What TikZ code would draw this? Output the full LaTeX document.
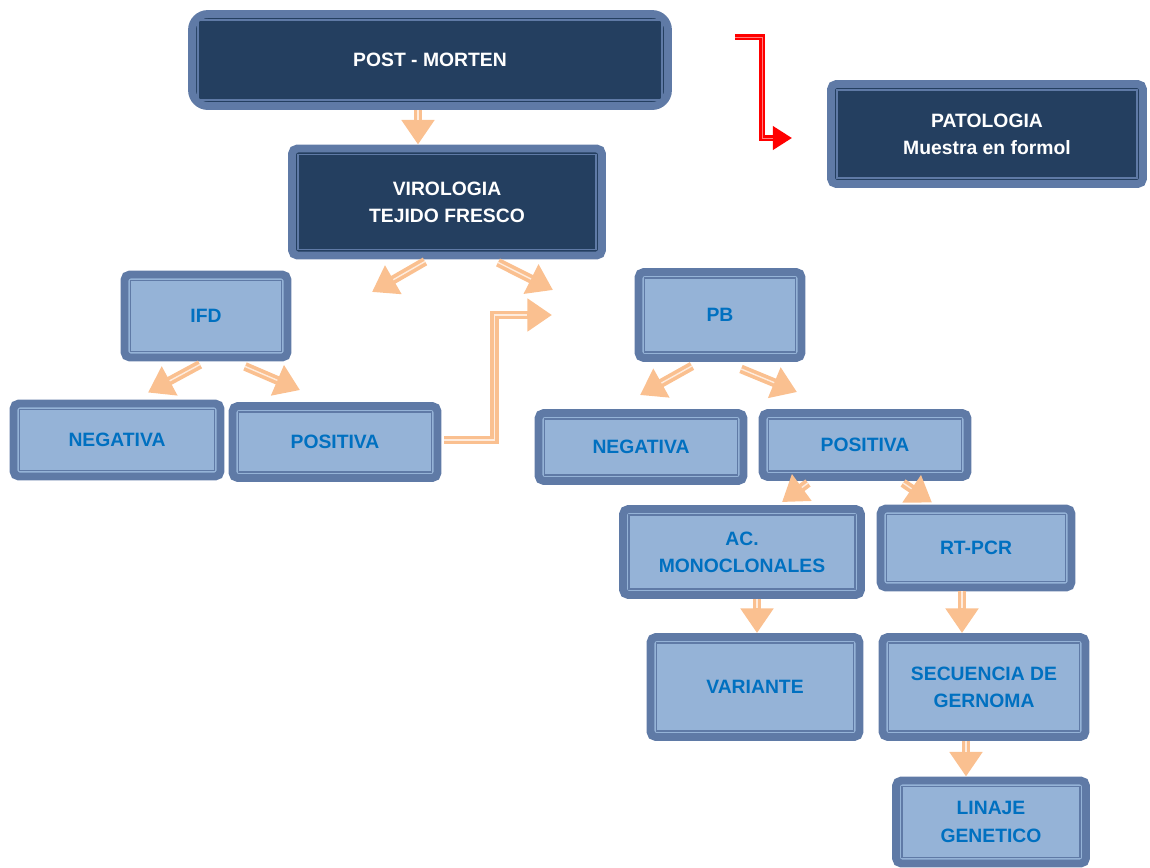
\documentclass[tikz,border=0pt]{standalone}
\usepackage{fontspec}
\setsansfont{Liberation Sans}
\usetikzlibrary{arrows.meta}
\definecolor{darkfill}{HTML}{243F60}
\definecolor{frame}{HTML}{5F7AA6}
\definecolor{lightfill}{HTML}{95B3D7}
\definecolor{bluetext}{HTML}{0070C0}
\definecolor{flowcol}{HTML}{FAC090}
\tikzset{
  box/.style={draw=frame, line width=4.5pt, rounded corners=3pt, align=center,
    font=\sffamily\bfseries\fontsize{11}{15.5}\selectfont},
  darkbox/.style={box, fill=darkfill, text=white},
  lightbox/.style={box, fill=lightfill, text=bluetext},
  innerline/.style={draw=frame, line width=1pt},
  flow/.style={draw=flowcol, line width=5pt, -{Triangle[width=18pt,length=14pt]},
    postaction={draw=white!70!flowcol, line width=0.8pt, -, shorten >=14pt}},
  redflow/.style={draw=red, line width=3.5pt, -{Triangle[width=13pt,length=11pt]},
    postaction={draw=white!50!red, line width=0.5pt, -, shorten >=11pt}}
}

\begin{document}
\begin{tikzpicture}[x=0.02cm, y=-0.02cm]
			%%%%% START %%%%%
			\useasboundingbox (0,0) rectangle (1150,867);
			
			\node[darkbox, rounded corners=9pt, minimum width=9.52cm, minimum height=1.84cm] (post) at (430,60) {POST - MORTEN};
			\node[darkbox, minimum width=6.2cm, minimum height=2.14cm] (viro) at (447,202) {VIROLOGIA\\TEJIDO FRESCO};
			\node[darkbox, minimum width=6.24cm, minimum height=2cm] (pat) at (987,134) {PATOLOGIA\\Muestra en formol};
			
			\node[lightbox, minimum width=3.26cm, minimum height=1.66cm] (ifd) at (206,316) {IFD};
			\node[lightbox, minimum width=4.14cm, minimum height=1.46cm] (negL) at (117,440) {NEGATIVA};
			\node[lightbox, minimum width=4.1cm, minimum height=1.44cm] (posL) at (335,442) {POSITIVA};
			
			\node[lightbox, minimum width=3.26cm, minimum height=1.72cm] (pb) at (720,315) {PB};
			\node[lightbox, minimum width=4.1cm, minimum height=1.36cm] (negR) at (641,447) {NEGATIVA};
			\node[lightbox, minimum width=4.1cm, minimum height=1.28cm] (posR) at (865,445) {POSITIVA};
			
			\node[lightbox, minimum width=4.76cm, minimum height=1.72cm] (ac) at (742,552) {AC.\\MONOCLONALES};
			\node[lightbox, minimum width=3.82cm, minimum height=1.58cm] (rt) at (976,548) {RT-PCR};
			\node[lightbox, minimum width=4.18cm, minimum height=2cm] (var) at (755,687) {VARIANTE};
			\node[lightbox, minimum width=4.06cm, minimum height=2cm] (seq) at (984,687) {SECUENCIA DE\\GERNOMA};
			\node[lightbox, minimum width=3.8cm, minimum height=1.66cm] (lin) at (991,822) {LINAJE\\GENETICO};
			
			% inner frame lines
			\foreach \n in {post,viro,pat,ifd,negL,posL,pb,negR,posR,ac,rt,var,seq,lin}
			  \draw[innerline] ([shift={(10,10)}]\n.north west) rectangle ([shift={(-10,-10)}]\n.south east);
			
			% free arrow ends
			\coordinate (ifdin) at (372,292);
			\coordinate (pbin) at (553,290);
			\coordinate (pbside) at (552,315);
			\coordinate (redstart) at (735,37);
			
			\draw[flow] ([shift={(-12,0)}]post.south) -- ([shift={(-29,0)}]viro.north);
			\draw[flow] ([shift={(-22,2)}]viro.south) -- (ifdin);
			\draw[flow] ([shift={(51,3)}]viro.south) -- (pbin);
			\draw[flow] ([shift={(3,-2)}]posL.east) -- ++(50,0) |- (pbside);
			
			\draw[flow] ([shift={(-6,3)}]ifd.south) -- ([shift={(31,-7)}]negL.north);
			\draw[flow] ([shift={(39,5)}]ifd.south) -- ([shift={(-35,-12)}]posL.north);
			\draw[flow] ([shift={(-28,4)}]pb.south) -- ([shift={(-1,-14)}]negR.north);
			\draw[flow] ([shift={(21,7)}]pb.south) -- ([shift={(-68,-17)}]posR.north);
			
			\draw[flow] ([shift={(-57,2)}]posR.south) -- ([shift={(40,-3)}]ac.north);
			\draw[flow] ([shift={(38,2)}]posR.south) -- ([shift={(-44,-2)}]rt.north);
			\draw[flow] ([shift={(15,0)}]ac.south) -- ([shift={(2,0)}]var.north);
			\draw[flow] ([shift={(-14,0)}]rt.south) -- ([shift={(-22,0)}]seq.north);
			\draw[flow] ([shift={(-18,0)}]seq.south) -- ([shift={(-25,0)}]lin.north);
			
			\draw[redflow] (redstart) -- ++(27,0) -- ++(0,101) -- ([shift={(-35,4)}]pat.west);
			%%%%% END %%%%%
\end{tikzpicture}
\end{document}
